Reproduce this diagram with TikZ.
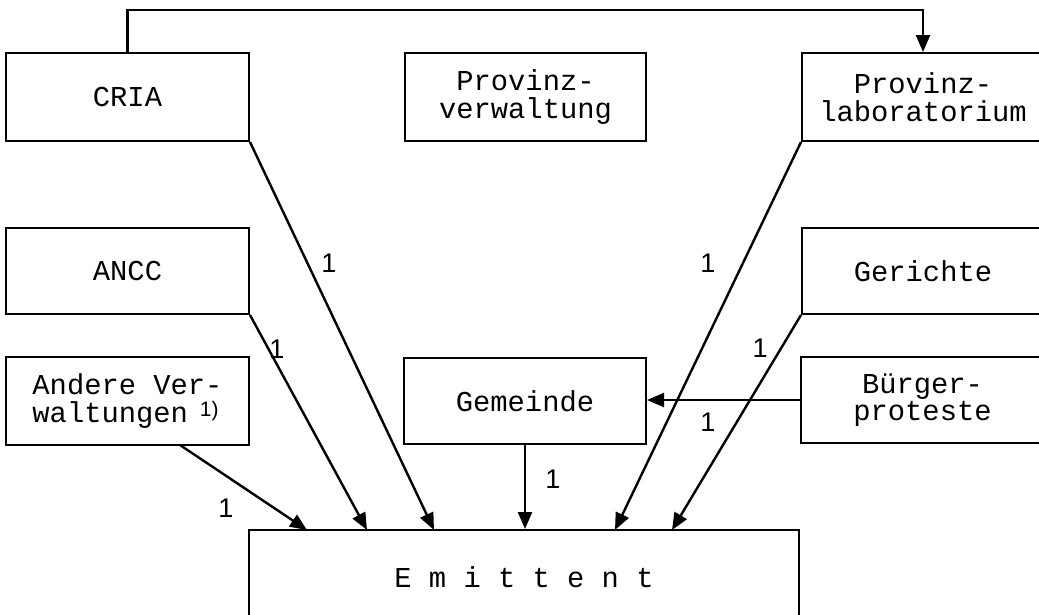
\documentclass[tikz,border=0pt]{standalone}
\usepackage{fontspec}
\setmonofont{Liberation Mono}
\setsansfont{Liberation Sans}
\usetikzlibrary{arrows.meta,calc}
\tikzset{
  box/.style={draw, line width=2pt, minimum width=243pt, minimum height=88pt, inner sep=0pt,
    font=\ttfamily\fontsize{28.8}{27.7}\selectfont, align=center},
  arr/.style={line width=2.4pt, -{Triangle[length=17pt,width=14pt]}},
  lab/.style={font=\sffamily\fontsize{27}{27}\selectfont, inner sep=0pt},
}
\begin{document}
\begin{tikzpicture}[x=1pt,y=-1pt]
\useasboundingbox (0,0) rectangle (1039,614);
\clip (0,0) rectangle (1039,614);
% boxes
\node[box] (cria) at (127.5,97) {CRIA};
\node[box, minimum height=86pt] (ancc) at (127.5,271) {ANCC};
\node[box, align=left] (andere) at (127.5,401) {Andere Ver-\\waltungen\hspace{12pt}\raisebox{6pt}{\sffamily\fontsize{21}{21}\selectfont 1)}};
\node[box, minimum width=241pt] (pverw) at (525.5,97) {Provinz-\\verwaltung};
\node[box, minimum width=242pt] (plab) at (923,97) {Provinz-\\laboratorium};
\node[box, minimum width=242pt, minimum height=86pt] (ger) at (923,271) {Gerichte};
\node[box, minimum width=243pt, minimum height=86pt] (buerg) at (922.5,400) {Bürger-\\proteste};
\node[box, minimum width=242pt, minimum height=86pt] (gem) at (525,401) {Gemeinde};
\node[box, minimum width=550pt, minimum height=94pt] (emit) at (524,577) {E m i t t e n t};
% target points on Emittent
\coordinate (t1) at (307,530);
\coordinate (t2) at (367,530);
\coordinate (t3) at (434,530);
\coordinate (t5) at (615,530);
\coordinate (t6) at (672,530);
\coordinate (a1) at (180,445);
% connectors
\draw[arr] (cria.north) -- ++(0,-42) -| (plab.north);
\draw[arr] (cria.south east) -- (t3);
\draw[arr] (ancc.south east) -- (t2);
\draw[arr] (a1) -- (t1);
\draw[arr] (gem.south) -- (gem.south |- emit.north);
\draw[arr] (plab.south west) -- (t5);
\draw[arr] (ger.south west) -- (t6);
\draw[arr] (buerg.west) -- (buerg.west -| gem.east);
% labels
\node[lab] (l1) at (329,263) {1};
\node[lab] (l2) at (277,349) {1};
\node[lab] (l3) at (226,508) {1};
\node[lab] (l4) at (553,479) {1};
\node[lab] (l5) at (708,263) {1};
\node[lab] (l6) at (760,348) {1};
\node[lab] (l7) at (708,422) {1};
\end{tikzpicture}
\end{document}
